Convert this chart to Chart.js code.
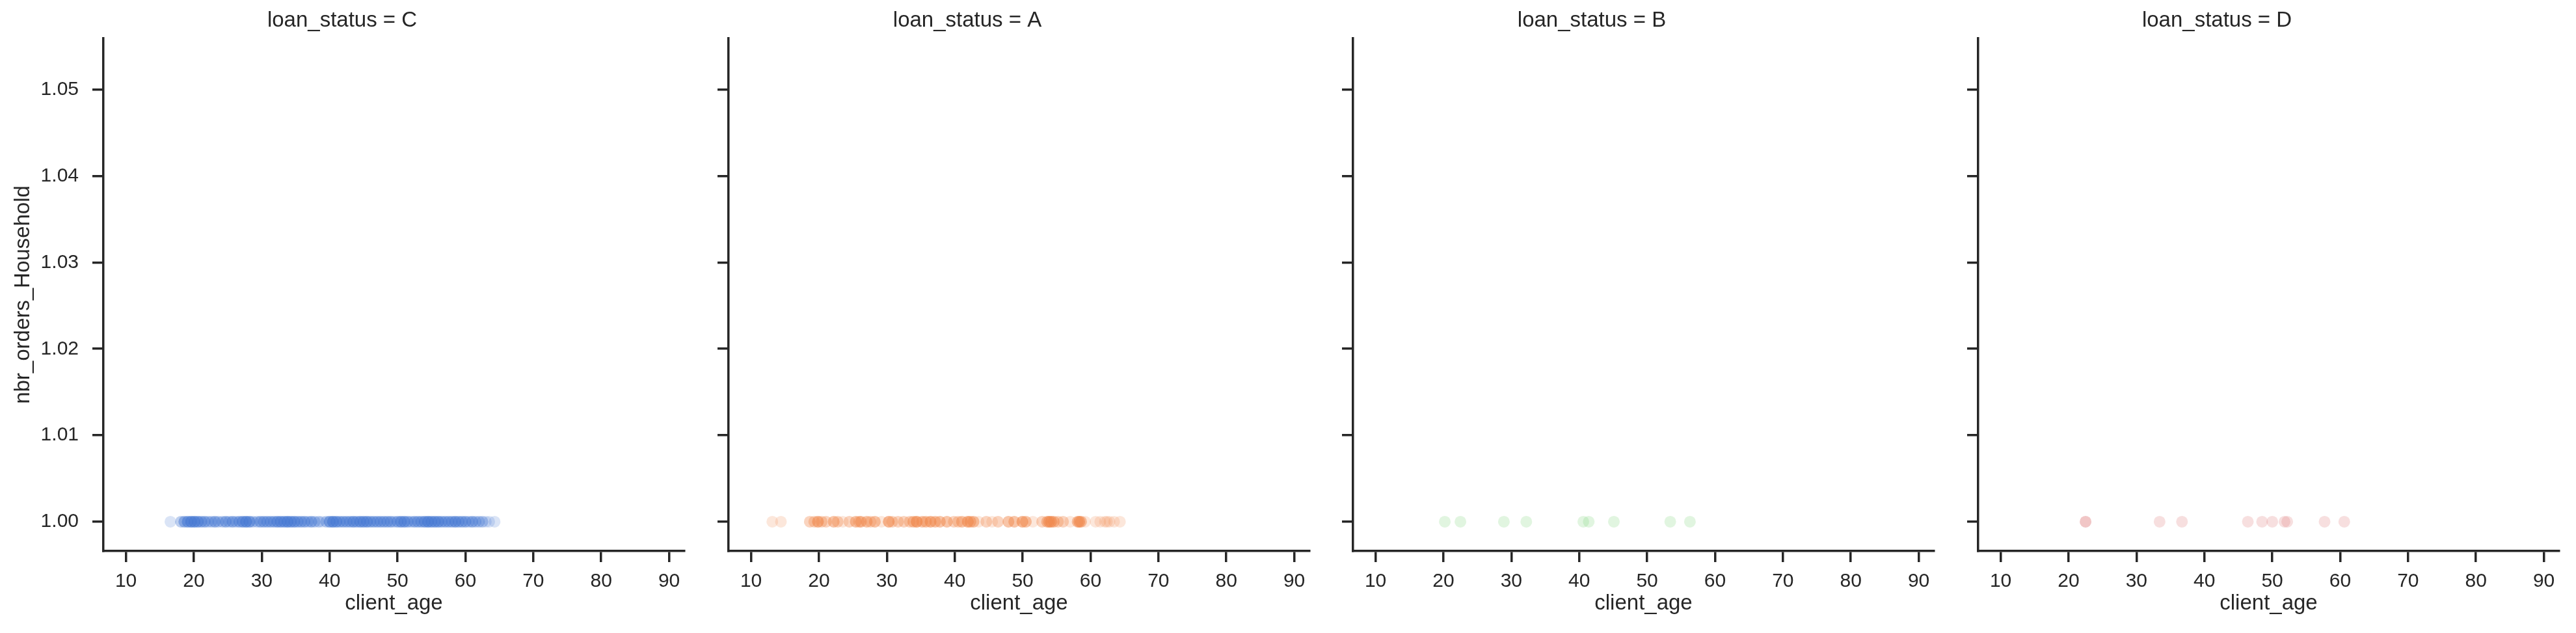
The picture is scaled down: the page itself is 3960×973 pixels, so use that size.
<!DOCTYPE html>
<html>
<head>
<meta charset="utf-8">
<script src="https://cdn.jsdelivr.net/npm/chart.js@4.4.1/dist/chart.umd.min.js"></script>
<style>
  html, body { margin: 0; padding: 0; background: #ffffff; overflow: hidden; }
  #wrap { position: relative; width: 3960px; height: 973px; overflow: hidden; background: #ffffff; }
  .panel { position: absolute; top: 0; }
</style>
</head>
<body>
<div id="wrap"></div>
<script>
// ---------------- DATA ----------------
const panelStatus = ['C', 'A', 'B', 'D'];

// client_age values per loan_status facet, with the number of observations
// estimated at each age from how strongly the translucent markers stack up.
const ageC = [16.55,
  18.1, 18.6, 19.1, 19.6, 20.1, 20.6, 21.1, 21.6, 22.1, 22.6, 23.1, 23.6, 24.2, 24.7,
  25.2, 25.7, 26.2, 26.7, 27.2, 27.7, 28.2, 28.7, 29.3, 29.8, 30.3, 30.8, 31.3, 31.8,
  32.3, 32.8, 33.3, 33.8, 34.3, 34.8, 35.3, 35.8, 36.3, 36.8, 37.3, 37.8, 38.4, 38.9,
  39.5, 40.0, 40.5, 41.0, 41.5, 42.0, 42.5, 43.0, 43.5, 44.0, 44.5, 45.0, 45.5, 46.0,
  46.5, 47.0, 47.5, 48.0, 48.5, 49.0, 49.5, 50.0, 50.5, 51.0, 51.5, 52.0, 52.5, 53.0,
  53.5, 54.0, 54.5, 55.0, 55.5, 56.0, 56.5, 57.0, 57.5, 58.0, 58.5, 59.0, 59.5, 60.0,
  60.5, 61.0, 61.5, 62.0, 62.5, 63.0, 63.5, 64.3];
const countC = [1,
  2, 3, 4, 5, 5, 4, 3, 3, 2, 2, 3, 2, 2, 3,
  2, 3, 2, 3, 4, 5, 4, 2, 2, 3, 3, 3, 3, 3,
  4, 4, 4, 5, 4, 4, 3, 3, 3, 2, 3, 2, 2, 1,
  2, 4, 5, 4, 3, 3, 3, 3, 4, 3, 4, 4, 4, 3,
  3, 3, 3, 3, 3, 3, 2, 3, 4, 4, 3, 2, 3, 3,
  3, 4, 5, 4, 4, 4, 3, 3, 3, 3, 4, 3, 3, 3,
  2, 3, 2, 2, 2, 1, 1, 1];

const ageA = [13.13, 14.4,
  18.65, 19.3, 19.85, 20.4, 21.05, 22.17, 22.75, 23.5, 24.47, 25.42, 25.9, 26.18,
  27.03, 27.6, 28.23, 29.2, 30.28, 30.8, 31.65, 32.51, 33.36, 33.9, 34.39, 35.2,
  35.76, 36.44, 37.13, 37.81, 38.84, 39.86, 40.5, 41.06, 41.92, 42.3, 42.77, 43.5,
  44.65, 45.5, 46.37, 47.9, 48.76, 49.96, 50.47, 51.5, 52.87, 53.6, 53.89, 54.2,
  54.58, 55.2, 55.95, 57.0, 58.1, 58.34, 58.6, 59.2, 60.74, 61.42, 62.1, 62.4,
  62.79, 63.47, 64.33];
const countA = [1, 1,
  2, 2, 4, 2, 2, 3, 2, 1, 2, 3, 2, 3,
  3, 2, 3, 1, 4, 2, 2, 2, 2, 3, 5, 3,
  3, 4, 3, 3, 3, 2, 2, 3, 4, 3, 3, 1,
  2, 1, 2, 3, 3, 4, 3, 1, 2, 3, 4, 4,
  3, 2, 2, 1, 3, 4, 3, 1, 1, 1, 1, 1,
  1, 1, 1];

const ageB = [20.2, 22.5, 28.9, 32.2, 40.6, 41.4, 45.1, 53.4, 56.3];
const countB = [1, 1, 1, 1, 1, 1, 1, 1, 1];

const ageD = [22.5, 33.4, 36.7, 46.4, 48.5, 50.0, 51.8, 52.2, 57.7, 60.6];
const countD = [2, 1, 1, 1, 1, 1, 1, 1, 1, 1];

// nbr_orders_Household: every plotted observation sits at 1.00
const nbrOrdersHousehold = 1.00;

// axis ticks / ranges
const xTicks = [10, 20, 30, 40, 50, 60, 70, 80, 90];
const xTickLabels = ['10', '20', '30', '40', '50', '60', '70', '80', '90'];
const yTicks = [1.00, 1.01, 1.02, 1.03, 1.04, 1.05];
const yTickLabels = ['1.00', '1.01', '1.02', '1.03', '1.04', '1.05'];
const xRange = [6.685, 92.24];
const yRange = [0.99661, 1.05592];

const panelAges = [ageC, ageA, ageB, ageD];
const panelCounts = [countC, countA, countB, countD];
const panelColors = ['rgba(72,120,208,0.2)', 'rgba(238,133,74,0.2)', 'rgba(106,204,100,0.2)', 'rgba(214,95,95,0.2)'];

// ---------------- LAYOUT ----------------
const FONT = "'Liberation Sans', Arial, 'DejaVu Sans', sans-serif";
const INK = '#262626';
const Y_AXIS_W = 159;   // space left of plot area
const PLOT_W = 893;
const PITCH = 960.7;    // distance between facets
const X_AXIS_H = 126;   // space below plot area
const CANVAS_H = 973;

const wrap = document.getElementById('wrap');

panelStatus.forEach((status, i) => {
  const canvasW = Y_AXIS_W + PLOT_W + Y_AXIS_W;
  const div = document.createElement('div');
  div.className = 'panel';
  div.style.left = Math.round(PITCH * i) + 'px';
  div.style.width = canvasW + 'px';
  div.style.height = CANVAS_H + 'px';
  const canvas = document.createElement('canvas');
  canvas.width = canvasW;
  canvas.height = CANVAS_H;
  canvas.style.width = canvasW + 'px';
  canvas.style.height = CANVAS_H + 'px';
  div.appendChild(canvas);
  wrap.appendChild(div);

  // one marker per observation (age repeated by its observation count)
  const points = [];
  panelAges[i].forEach((a, k) => {
    for (let n = 0; n < panelCounts[i][k]; n++) points.push({ x: a, y: nbrOrdersHousehold });
  });

  new Chart(canvas, {
    type: 'scatter',
    data: {
      datasets: [{
        data: points,
        backgroundColor: panelColors[i],
        borderWidth: 0,
        pointRadius: 9,
        pointHoverRadius: 9,
        pointStyle: 'circle'
      }]
    },
    options: {
      responsive: false,
      animation: false,
      devicePixelRatio: 1,
      events: [],
      layout: { padding: { left: 0, right: Y_AXIS_W, top: 0, bottom: 0 } },
      plugins: {
        legend: { display: false },
        tooltip: { enabled: false },
        title: {
          display: true,
          text: 'loan_status = ' + status,
          color: INK,
          font: { family: FONT, size: 33, weight: 'normal', lineHeight: 1.2 },
          padding: { top: 12.2, bottom: 7.2 }
        }
      },
      scales: {
        x: {
          type: 'linear',
          position: 'bottom',
          min: xRange[0],
          max: xRange[1],
          afterBuildTicks: s => { s.ticks = xTicks.map(v => ({ value: v })); },
          afterFit: s => { s.height = X_AXIS_H; },
          grid: { display: true, drawOnChartArea: false, drawTicks: true, tickLength: 17, lineWidth: 3.5, color: INK },
          border: { display: true, color: INK, width: 3.5 },
          ticks: {
            color: INK, font: { family: FONT, size: 30 }, padding: 12,
            maxRotation: 0, autoSkip: false,
            callback: (v, idx) => xTickLabels[idx]
          },
          title: {
            display: true, text: 'client_age', color: INK,
            font: { family: FONT, size: 33, lineHeight: 1.2 },
            padding: { top: 0, bottom: 25 }
          }
        },
        y: {
          type: 'linear',
          position: 'left',
          min: yRange[0],
          max: yRange[1],
          afterBuildTicks: s => { s.ticks = yTicks.map(v => ({ value: v })); },
          afterFit: s => { s.width = Y_AXIS_W; },
          grid: { display: true, drawOnChartArea: false, drawTicks: true, tickLength: 17, lineWidth: 3.5, color: INK },
          border: { display: true, color: INK, width: 3.5 },
          ticks: {
            color: INK, font: { family: FONT, size: 30 }, padding: 21,
            autoSkip: false,
            callback: (v, idx) => (i === 0 ? yTickLabels[idx] : '')
          },
          title: {
            display: i === 0, text: 'nbr_orders_Household', color: INK,
            font: { family: FONT, size: 33, lineHeight: 1.2 },
            padding: { top: 16, bottom: 0 }
          }
        }
      }
    }
  });
});
</script>
</body>
</html>
